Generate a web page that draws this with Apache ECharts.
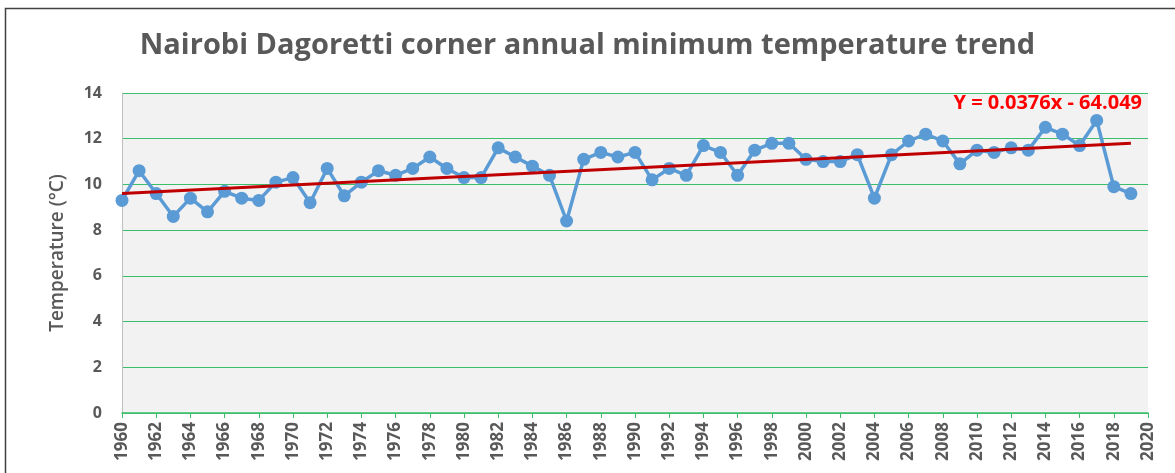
<!DOCTYPE html>
<html>
<head>
<meta charset="utf-8">
<script src="https://cdn.jsdelivr.net/npm/echarts@6/dist/echarts.min.js"></script>
<style>
    html, body {margin: 0; padding: 0; background: #fff;}
    #main {width: 1175px; height: 473px;}
</style>
</head>
<body>
<div id="main"></div>
<script>
// 年份 1960-2019
var years = [1960, 1961, 1962, 1963, 1964, 1965, 1966, 1967, 1968, 1969,
    1970, 1971, 1972, 1973, 1974, 1975, 1976, 1977, 1978, 1979,
    1980, 1981, 1982, 1983, 1984, 1985, 1986, 1987, 1988, 1989,
    1990, 1991, 1992, 1993, 1994, 1995, 1996, 1997, 1998, 1999,
    2000, 2001, 2002, 2003, 2004, 2005, 2006, 2007, 2008, 2009,
    2010, 2011, 2012, 2013, 2014, 2015, 2016, 2017, 2018, 2019];

var minTemp = [9.3, 10.6, 9.6, 8.6, 9.4, 8.8, 9.7, 9.4, 9.3, 10.1,
    10.3, 9.2, 10.7, 9.5, 10.1, 10.6, 10.4, 10.7, 11.2, 10.7,
    10.3, 10.3, 11.6, 11.2, 10.8, 10.4, 8.4, 11.1, 11.4, 11.2,
    11.4, 10.2, 10.7, 10.4, 11.7, 11.4, 10.4, 11.5, 11.8, 11.8,
    11.1, 11.0, 11.0, 11.3, 9.4, 11.3, 11.9, 12.2, 11.9, 10.9,
    11.5, 11.4, 11.6, 11.5, 12.5, 12.2, 11.7, 12.8, 9.9, 9.6];

// 趋势线两端
var trendYears = [1960, 2019];
var trendValues = [9.6, 11.8];
var trendLabel = 'Y = 0.0376x - 64.049';

var chartDom = document.getElementById('main');
var myChart = echarts.init(chartDom);
var option;

var gray = '#595959';
var green = '#3cbf6a';

option = {
    animation: false,
    title: {
        text: 'Nairobi Dagoretti corner annual minimum temperature trend',
        left: 'center',
        top: 26,
        textStyle: {
            fontFamily: 'Open Sans',
            fontSize: 29,
            fontWeight: 'bold',
            color: gray
        }
    },
    grid: {
        left: 122,
        right: 27,
        top: 93,
        bottom: 60,
        show: true,
        backgroundColor: '#f2f2f2',
        borderWidth: 0
    },
    xAxis: {
        type: 'value',
        min: 1960,
        max: 2020,
        interval: 2,
        axisLine: {show: true, lineStyle: {color: green, width: 1.5}},
        axisTick: {show: true, length: 5, lineStyle: {color: green}},
        splitLine: {show: false},
        axisLabel: {
            rotate: 90,
            margin: 9,
            color: gray,
            fontFamily: 'Open Sans',
            fontWeight: 'bold',
            fontSize: 17,
            formatter: function (v) { return String(v); }
        }
    },
    yAxis: {
        type: 'value',
        min: 0,
        max: 14,
        interval: 2,
        name: 'Temperature (°C)',
        nameLocation: 'middle',
        nameGap: 55,
        nameTextStyle: {
            color: gray,
            fontFamily: 'Open Sans',
            fontWeight: 600,
            fontSize: 19
        },
        axisLine: {show: true, lineStyle: {color: '#bfbfbf'}},
        axisTick: {show: false},
        splitLine: {show: true, lineStyle: {color: green, width: 1.2}},
        axisLabel: {
            margin: 20,
            color: gray,
            fontFamily: 'Open Sans',
            fontWeight: 'bold',
            fontSize: 16
        }
    },
    series: [
        {
            name: 'Tmin',
            type: 'line',
            data: years.map(function (y, i) { return [y, minTemp[i]]; }),
            symbol: 'circle',
            symbolSize: 13,
            itemStyle: {color: '#5b9bd5'},
            lineStyle: {color: '#5b9bd5', width: 3.5},
            z: 2
        },
        {
            name: 'Trend',
            type: 'line',
            data: trendYears.map(function (y, i) { return [y, trendValues[i]]; }),
            symbol: 'none',
            lineStyle: {color: '#c00000', width: 3},
            z: 3
        }
    ],
    graphic: [
        {
            type: 'rect',
            shape: {x: 5.5, y: 8.5, width: 1200, height: 500},
            style: {fill: 'none', stroke: '#404040', lineWidth: 1.5},
            silent: true
        },
        {
            type: 'text',
            right: 33,
            top: 93,
            style: {
                text: trendLabel,
                fill: '#ff0000',
                font: 'bold 20px "Open Sans"'
            },
            z: 10
        }
    ]
};

option && myChart.setOption(option);
</script>
</body>
</html>
